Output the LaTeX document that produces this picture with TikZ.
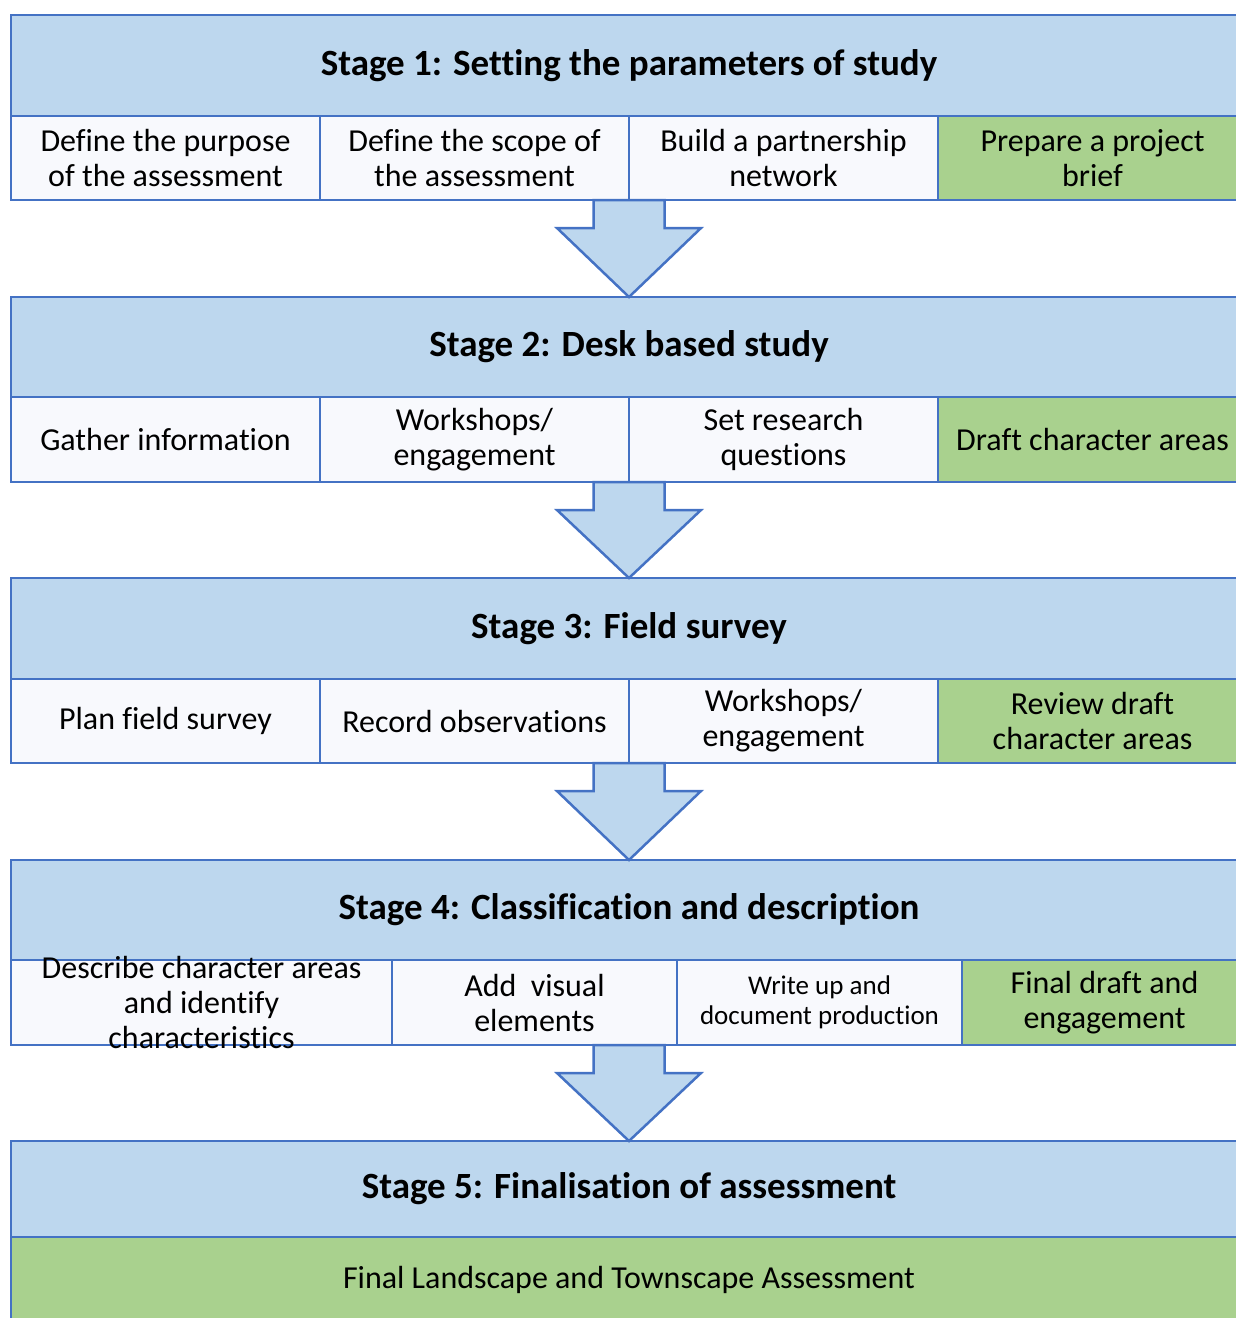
\documentclass[tikz,border=0pt]{standalone}
\usepackage{fontspec}
\setmainfont[Ligatures=NoCommon]{Carlito}
\usetikzlibrary{calc}
\definecolor{edgeblue}{HTML}{4472C4}
\definecolor{headblue}{HTML}{BDD7EE}
\definecolor{cellwhite}{HTML}{F8F9FD}
\definecolor{cellgreen}{HTML}{A9D18E}
\begin{document}
\begin{tikzpicture}[x=1pt,y=-1pt,
 base/.style={draw=edgeblue,line width=2.5pt,inner sep=0pt,outer sep=0pt,anchor=north west,align=center},
 head/.style={base,fill=headblue,minimum width=1236pt,minimum height=101pt,font=\fontsize{37}{44}\selectfont\bfseries},
 cell/.style={base,fill=cellwhite,minimum height=84pt,font=\fontsize{32}{35}\selectfont},
 gcell/.style={cell,fill=cellgreen},
 bigarrow/.style={draw=edgeblue,fill=headblue,line width=2.5pt,line join=miter}]
\useasboundingbox (0,0) rectangle (1236,1318);
\clip (0,0) rectangle (1236,1318);
% Stage 1
\node[head] (s1) at (11,15) {Stage 1: Setting the parameters of study};
\node[cell,minimum width=309pt] (a1) at (11,116) {Define the purpose\\of the assessment};
\node[cell,minimum width=309pt] (a2) at (320,116) {Define the scope of\\the assessment};
\node[cell,minimum width=309pt] (a3) at (629,116) {Build a partnership\\network};
\node[gcell,minimum width=309pt] (a4) at (938,116) {Prepare a project\\brief};
% Stage 2
\node[head,minimum height=100pt] (s2) at (11,297) {Stage 2: Desk based study};
\node[cell,minimum width=309pt,minimum height=85pt] (b1) at (11,397) {Gather information};
\node[cell,minimum width=309pt,minimum height=85pt] (b2) at (320,397) {Workshops/\\engagement};
\node[cell,minimum width=309pt,minimum height=85pt] (b3) at (629,397) {Set research\\questions};
\node[gcell,minimum width=309pt,minimum height=85pt] (b4) at (938,397) {Draft character areas};
% Stage 3
\node[head] (s3) at (11,578) {Stage 3: Field survey};
\node[cell,minimum width=309pt] (c1) at (11,679) {Plan field survey};
\node[cell,minimum width=309pt] (c2) at (320,679) {Record observations};
\node[cell,minimum width=309pt] (c3) at (629,679) {Workshops/\\engagement};
\node[gcell,minimum width=309pt] (c4) at (938,679) {Review draft\\character areas};
% Stage 4
\node[head,minimum height=100pt] (s4) at (11,860) {Stage 4: Classification and description};
\node[cell,minimum width=381pt,minimum height=85pt] (d1) at (11,960) {};
\node[cell,minimum width=285pt,minimum height=85pt] (d2) at (392,960) {Add~ visual\\elements};
\node[cell,minimum width=285pt,minimum height=85pt,font=\fontsize{27}{30}\selectfont] (d3) at (677,960) {Write up and\\document production};
\node[gcell,minimum width=285pt,minimum height=85pt] (d4) at (962,960) {Final draft and\\engagement};
\node[align=center,inner sep=0pt,font=\fontsize{32}{35}\selectfont] (d1t) at (d1.center) {Describe character areas\\and identify\\characteristics};
% Stage 5
\node[head,minimum height=96pt] (s5) at (11,1141) {Stage 5: Finalisation of assessment};
\node[gcell,minimum width=1236pt,minimum height=86pt] (e1) at (11,1237) {Final Landscape and Townscape Assessment};
% Arrows
\foreach \top/\nxt in {a2/s2,b2/s3,c2/s4}{
 \draw[bigarrow] ($(\top.south east)+(-35.5,0)$) -- ++(0,28) -- ++(-36.5,0) -- (\nxt.north)
   -- ($(\top.south east)+(72,28)$) -- ++(-36.5,0) -- ++(0,-28) -- cycle;
}
\draw[bigarrow] ($(d3.south west)+(-83.5,0)$) -- ++(0,28) -- ++(-36.5,0) -- (s5.north)
   -- ($(d3.south west)+(24,28)$) -- ++(-36.5,0) -- ++(0,-28) -- cycle;
\end{tikzpicture}
\end{document}
